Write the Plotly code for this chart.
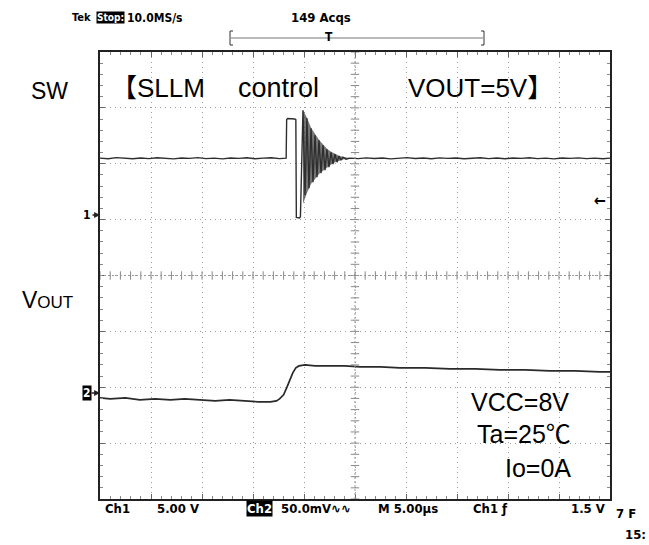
import numpy as np
import plotly.graph_objects as go

# ---------------- data ----------------
# Ch1 : SW node, volts vs time (µs, trigger at 0)
sw_time_us = [-25.0, -24.2, -23.4, -22.6, -21.8, -21.0, -20.2, -19.4, -18.6, -17.8,
              -17.0, -16.2, -15.4, -14.6, -13.8, -13.0, -12.2, -11.4, -10.6, -9.8,
              -9.0, -8.2, -7.4, -6.75,
              -6.7, -6.6, -5.9, -5.8, -5.75, -5.45, -5.35, -5.1,
              -4.90, -4.71, -4.51, -4.31, -4.12, -3.92, -3.73, -3.53, -3.33, -3.14,
              -2.94, -2.75, -2.55, -2.35, -2.16, -1.96, -1.76, -1.57, -1.37, -1.18,
              -0.88, -0.49,
              0.3, 1.1, 1.9, 2.7, 3.5, 4.3, 5.1, 5.9, 6.7, 7.5, 8.3, 9.1, 9.9, 10.7,
              11.5, 12.3, 13.1, 13.9, 14.7, 15.5, 16.3, 17.1, 17.9, 18.7, 19.5, 20.3,
              21.1, 21.9, 22.7, 23.5, 24.3, 25.0]
sw_volts = [5.10, 5.05, 5.15, 5.10, 5.05, 5.12, 5.06, 5.14, 5.08, 5.04,
            5.12, 5.08, 5.15, 5.06, 5.10, 5.04, 5.12, 5.08, 5.14, 5.05,
            5.10, 5.14, 5.06, 5.10,
            8.55, 8.65, 8.60, 8.55, -0.20, -0.25, -0.15, 9.39,
            1.79, 8.67, 2.41, 7.78, 2.95, 7.15, 3.40, 6.71, 3.75, 6.26,
            4.02, 5.90, 4.29, 5.63, 4.56, 5.45, 4.74, 5.28, 4.92, 5.19,
            5.01, 5.10,
            5.06, 5.13, 5.07, 5.12, 5.04, 5.10, 5.15, 5.07, 5.11, 5.05, 5.13, 5.08, 5.12, 5.05,
            5.10, 5.14, 5.06, 5.11, 5.05, 5.12, 5.08, 5.14, 5.06, 5.10, 5.04, 5.12,
            5.08, 5.13, 5.06, 5.10, 5.05, 5.10]

# persistence envelope of the ringing (many acquisitions overlaid)
ring_env_time_us = [-5.1, -4.7, -4.3, -3.9, -3.5, -3.1, -2.7, -2.3, -1.9, -1.5, -1.1, -0.5]
ring_env_upper_v = [9.4, 8.7, 7.8, 7.2, 6.7, 6.3, 5.9, 5.65, 5.45, 5.3, 5.2, 5.12]
ring_env_lower_v = [1.0, 2.0, 2.8, 3.3, 3.7, 4.0, 4.3, 4.55, 4.75, 4.9, 5.0, 5.08]

# Ch2 : VOUT ripple (AC), mV vs time (µs)
vout_time_us = [-25.0, -24.0, -22.5, -21.1, -19.6, -18.1, -16.7, -15.2, -13.7, -12.3,
                -10.8, -9.5, -8.3, -7.7, -7.4, -7.0, -6.7, -6.4, -6.1, -5.8, -5.5,
                -4.9, -3.9, -2.5, -1.0, 0.5, 2.5, 4.4, 6.9, 9.3, 11.8, 14.2, 16.7,
                19.1, 21.6, 24.0, 25.0]
vout_mv = [-4.5, -5.4, -4.5, -6.3, -5.4, -6.3, -5.4, -6.3, -7.2, -6.3,
           -7.2, -8.0, -8.0, -7.2, -5.4, -1.8, 4.5, 11.6, 17.9, 22.4, 24.1,
           25.0, 24.1, 24.1, 24.1, 23.2, 23.2, 22.4, 22.4, 21.5, 21.5, 20.6, 20.6,
           19.7, 19.7, 18.8, 18.8]

# scope settings
CH1_V_PER_DIV = 5.0
CH2_MV_PER_DIV = 50.0
CH1_POS_DIV = 1.08
CH2_POS_DIV = -2.10
T_RANGE_US = [-25, 25]

# ---------------- layout helpers ----------------
W, H = 649, 545
L, R, T, B = 100, 610, 52, 499


def px(x):
    return (x - L) / (R - L)


def py(y):
    return (B - y) / (B - T)


HDR = "Liberation Sans Narrow, DejaVu Sans Condensed, DejaVu Sans, sans-serif"
LBL = "Liberation Sans, Arial, Noto Sans CJK JP, sans-serif"

fig = go.Figure()

# graticule centre ticks (decoration)
fig.add_trace(go.Scatter(x=np.arange(-25, 25.01, 1.0), y=np.zeros(51), mode="markers",
                         marker=dict(symbol="line-ns", size=6, line=dict(width=1, color="#888")),
                         yaxis="y", hoverinfo="skip", showlegend=False))
fig.add_trace(go.Scatter(x=np.zeros(41), y=np.arange(-4, 4.01, 0.2), mode="markers",
                         marker=dict(symbol="line-ew", size=6, line=dict(width=1, color="#888")),
                         yaxis="y", hoverinfo="skip", showlegend=False))

# ringing persistence envelope
fig.add_trace(go.Scatter(x=ring_env_time_us, y=ring_env_lower_v, mode="lines",
                         line=dict(width=0, color="rgba(0,0,0,0)"), yaxis="y2",
                         hoverinfo="skip", showlegend=False))
fig.add_trace(go.Scatter(x=ring_env_time_us, y=ring_env_upper_v, mode="lines",
                         line=dict(width=0, color="rgba(0,0,0,0)"), fill="tonexty",
                         fillcolor="rgba(60,60,60,0.7)", yaxis="y2",
                         hoverinfo="skip", showlegend=False))
# Ch1
fig.add_trace(go.Scatter(x=sw_time_us, y=sw_volts, mode="lines",
                         line=dict(width=1.4, color="#2e2e2e"), yaxis="y2", showlegend=False))
# Ch2
fig.add_trace(go.Scatter(x=vout_time_us, y=vout_mv, mode="lines",
                         line=dict(width=1.7, color="#2a2a2a"), yaxis="y3", showlegend=False))

grid = dict(showgrid=True, gridcolor="#9c9c9c", griddash="1px,4px", gridwidth=1,
            zeroline=False, showticklabels=False, showline=True, linecolor="#222",
            linewidth=1.5, mirror="ticks", ticks="inside", ticklen=5, tickcolor="#666")

fig.update_layout(
    width=W, height=H, margin=dict(l=L, r=W - R, t=T, b=H - B),
    paper_bgcolor="white", plot_bgcolor="white",
    xaxis=dict(range=T_RANGE_US, dtick=5, tick0=0,
               minor=dict(dtick=1, ticks="inside", ticklen=3, tickcolor="#888", showgrid=False),
               **grid),
    yaxis=dict(range=[-4, 4], dtick=1, tick0=0,
               minor=dict(dtick=0.2, ticks="inside", ticklen=3, tickcolor="#888", showgrid=False),
               **grid),
    yaxis2=dict(overlaying="y", visible=False,
                range=[(-4 - CH1_POS_DIV) * CH1_V_PER_DIV, (4 - CH1_POS_DIV) * CH1_V_PER_DIV]),
    yaxis3=dict(overlaying="y", visible=False,
                range=[(-4 - CH2_POS_DIV) * CH2_MV_PER_DIV, (4 - CH2_POS_DIV) * CH2_MV_PER_DIV]),
)


def ann(text, x, y, size, family=LBL, xanchor="left", color="black", bg=None, pad=0):
    d = dict(text=text, x=px(x), y=py(y), xref="paper", yref="paper", xanchor=xanchor,
             yanchor="middle", showarrow=False, font=dict(family=family, size=size, color=color),
             borderpad=pad)
    if bg:
        d["bgcolor"] = bg
    return d


anns = [
    ann("<b>Tek</b>", 71, 18, 11, HDR),
    ann("<b>Stop:</b>", 96, 18, 10, HDR, color="white", bg="black", pad=0),
    ann("<b>10.0MS/s</b>", 126, 18, 12, HDR),
    ann("<b>149 Acqs</b>", 290, 18, 13, HDR),
    ann("<b>T</b>", 329, 37, 12, HDR, xanchor="center"),
    ann("SW", 30, 91, 23),
    ann("【SLLM", 110, 88, 26),
    ann("control", 237, 88, 27),
    ann("VOUT=5V】", 407, 88, 26),
    ann("V<span style='font-size:17px'>OUT</span>", 21, 300, 23),
    ann("VCC=8V", 570, 402, 25, xanchor="right"),
    ann("Ta=25℃", 572, 434, 25, xanchor="right"),
    ann("Io=0A", 572, 468, 25, xanchor="right"),
    ann("<b>Ch1</b>", 104, 509, 13, HDR),
    ann("<b>5.00 V</b>", 156, 509, 13, HDR),
    ann("<b>Ch2</b>", 246, 509, 13, HDR, color="white", bg="black"),
    ann("<b>50.0mV∿∿</b>", 280, 509, 13, HDR),
    ann("<b>M 5.00µs</b>", 377, 509, 13, HDR),
    ann("<b>Ch1 ƒ</b>", 472, 509, 13, HDR),
    ann("<b>1.5 V</b>", 606, 509, 13, HDR, xanchor="right"),
    ann("<b>7 F</b>", 615, 513, 13, HDR),
    ann("<b>15:</b>", 624, 534, 13, HDR),
    ann("<b>←</b>", 600, 200, 16, HDR, xanchor="center"),
    dict(text="<b>1</b>", x=0, y=py(215), xref="paper", yref="paper", showarrow=True,
         ax=-13, ay=0, arrowhead=2, arrowsize=0.9, arrowwidth=1.3, arrowcolor="#222",
         font=dict(family=HDR, size=12, color="black"), standoff=0),
    dict(text="<b>2</b>", x=0, y=py(393), xref="paper", yref="paper", showarrow=True,
         ax=-13, ay=0, arrowhead=2, arrowsize=0.9, arrowwidth=1.3, arrowcolor="#222",
         font=dict(family=HDR, size=12, color="white"), bgcolor="black", borderpad=0,
         standoff=0),
]
fig.update_layout(annotations=anns)

# trigger-position bracket above the graticule
line_style = dict(color="#333", width=1)
shapes = [
    dict(type="line", xref="paper", yref="paper", x0=px(231), x1=px(483), y0=py(38), y1=py(38),
         line=dict(color="#777", width=1)),
    dict(type="line", xref="paper", yref="paper", x0=px(230), x1=px(230), y0=py(31), y1=py(45),
         line=line_style),
    dict(type="line", xref="paper", yref="paper", x0=px(230), x1=px(233), y0=py(31), y1=py(31),
         line=line_style),
    dict(type="line", xref="paper", yref="paper", x0=px(230), x1=px(233), y0=py(45), y1=py(45),
         line=line_style),
    dict(type="line", xref="paper", yref="paper", x0=px(484), x1=px(484), y0=py(31), y1=py(45),
         line=line_style),
    dict(type="line", xref="paper", yref="paper", x0=px(481), x1=px(484), y0=py(31), y1=py(31),
         line=line_style),
    dict(type="line", xref="paper", yref="paper", x0=px(481), x1=px(484), y0=py(45), y1=py(45),
         line=line_style),
    # centre crosshair
    dict(type="line", xref="x", yref="y", x0=-25, x1=25, y0=0, y1=0,
         line=dict(color="#999", width=1, dash="2px,2px")),
    dict(type="line", xref="x", yref="y", x0=0, x1=0, y0=-4, y1=4,
         line=dict(color="#999", width=1, dash="2px,2px")),
]
fig.update_layout(shapes=shapes)

fig.write_html("out.html", config={"displayModeBar": False},
               post_script="document.body.style.margin='0';")
